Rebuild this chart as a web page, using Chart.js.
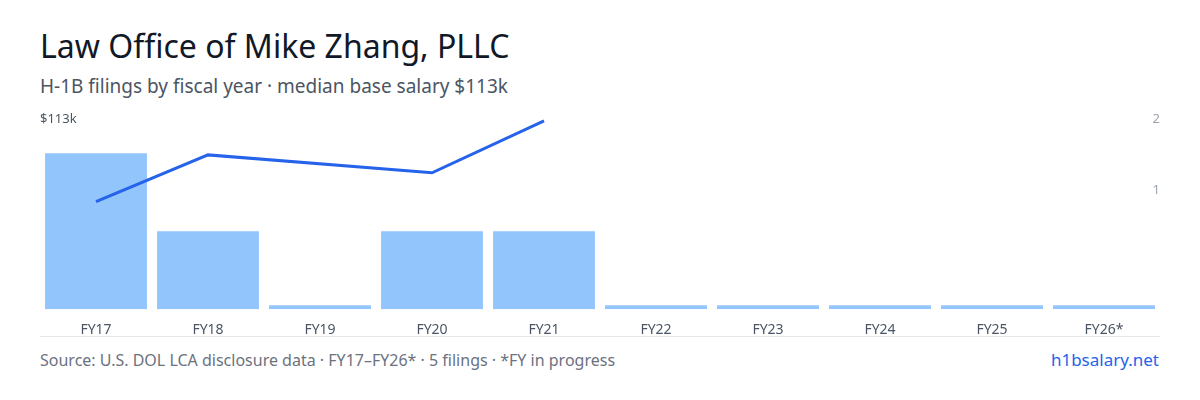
<!DOCTYPE html>
<html><head><meta charset="utf-8">
<script src="https://cdn.jsdelivr.net/npm/chart.js@4"></script>
<style>
body{margin:0;width:1200px;height:400px;background:#fff;font-family:"Noto Sans",sans-serif;position:relative;overflow:hidden}
#t{position:absolute;left:40px;top:24px;font-size:32px;color:#111827}
#s{position:absolute;left:40px;top:73px;font-size:19px;color:#4b5563}
#c{position:absolute;left:40px;top:110px;width:1120px;height:232px}
#hr{position:absolute;left:40px;top:336px;width:1120px;border-top:1px solid #e5e7eb}
#f{position:absolute;left:40px;top:349px;font-size:16px;color:#6b7280}
#r{position:absolute;right:41px;top:348px;font-size:17px;color:#2563eb}
</style></head><body>
<div id="t">Law Office of Mike Zhang, PLLC</div>
<div id="s">H-1B filings by fiscal year · median base salary $113k</div>
<div id="c"><canvas id="cv"></canvas></div>
<div id="hr"></div>
<div id="f">Source: U.S. DOL LCA disclosure data · FY17–FY26* · 5 filings · *FY in progress</div>
<div id="r">h1bsalary.net</div>
<script>
const categories=["FY17","FY18","FY19","FY20","FY21","FY22","FY23","FY24","FY25","FY26*"];
const filings=[2,1,0,1,1,0,0,0,0,0];
const salaryK=[90,103,null,98,112.5,null,null,null,null,null];
new Chart(document.getElementById('cv'),{
data:{labels:categories,datasets:[
{type:'line',data:salaryK,yAxisID:'yL',borderColor:'#2563eb',borderWidth:3,pointRadius:0,spanGaps:true,tension:0,order:0},
{type:'bar',data:filings,yAxisID:'yB',backgroundColor:'#93c5fd',minBarLength:4,categoryPercentage:1,barPercentage:0.91,order:1}
]},
options:{responsive:true,maintainAspectRatio:false,animation:false,
layout:{padding:{top:9,bottom:0,left:0,right:0}},
plugins:{legend:{display:false},tooltip:{enabled:false}},
scales:{
x:{grid:{display:false},border:{display:false},ticks:{color:'#4a5565',font:{size:14,family:'Noto Sans'},padding:4}},
yB:{display:false,min:0,max:2.44},
yL:{position:'left',min:60,max:113,grid:{display:false},border:{display:false},
 afterFit:a=>{a.width=0},
 afterBuildTicks:a=>{a.ticks=[{value:113}]},
 ticks:{mirror:true,padding:0,color:'#4b5563',font:{size:13,family:'Noto Sans'},callback:v=>'$'+v+'k'}},
yR:{position:'right',min:-0.68,max:2,grid:{display:false},border:{display:false},
 afterFit:a=>{a.width=0},
 afterBuildTicks:a=>{a.ticks=[{value:1},{value:2}]},
 ticks:{mirror:true,padding:0,color:'#9ca3af',font:{size:13,family:'Noto Sans'}}}
}}});
</script></body></html>
